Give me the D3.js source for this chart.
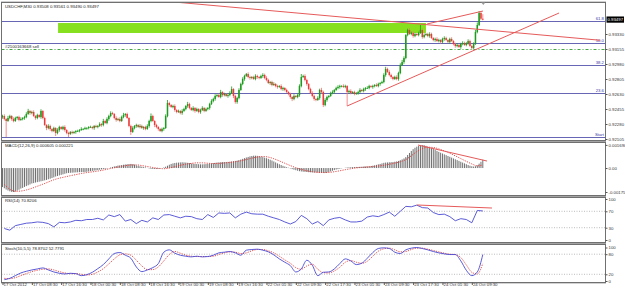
<!DOCTYPE html>
<html><head><meta charset="utf-8">
<script src="https://cdn.jsdelivr.net/npm/d3@7"></script>
<style>
body{margin:0;background:#fff}
svg{display:block}
text{font-family:"Liberation Sans",Arial,sans-serif;font-size:4.3px;fill:#222}
</style>
</head><body>
<svg id="c" width="625" height="290"></svg>
<script>
// ---------------- DATA ----------------
const chartTitle = "USDCHF,M30  0.93508 0.93561 0.93490 0.93497";
const macdTitle = "MACD(12,26,9) 0.000605 0.000221";
const rsiTitle = "RSI(14) 70.8206";
const stochTitle = "Stoch(10,5,5) 78.8702 52.7791";
const timeLabels = ["17 Oct 2012","17 Oct 08:30","17 Oct 16:30","18 Oct 00:30","18 Oct 08:30","18 Oct 16:30","19 Oct 00:30","19 Oct 08:30","19 Oct 16:30","22 Oct 01:30","22 Oct 09:30","22 Oct 17:30","23 Oct 01:30","23 Oct 09:30","23 Oct 17:30","24 Oct 01:30","24 Oct 09:30"];
const timeLabelBars = [0,16,32,48,64,80,96,112,128,144,160,176,192,208,224,240,256];
const priceTicks = [0.93330,0.93155,0.92980,0.92805,0.92630,0.92455,0.92280,0.92105];
const lastPrice = 0.93497;
const macdTicks = [0.00169,0,-0.00175];
const macdTickLabels = ["0.001690","0.00","-0.00175"];
const rsiTicks = [100,70,30,0];
const stochTicks = [100,80,20,0];

// candles: price x 1e5 (open of each bar = previous close)
const firstOpen = 92362;
const closePts = [
92373,92338,92315,92350,92373,92338,92315,92350,92362,92327,92338,92350,92362,92397,92432,92408,
92420,92373,92350,92385,92362,92432,92350,92268,92233,92257,92222,92198,92233,92175,92210,92245,
92222,92245,92210,92175,92163,92187,92175,92187,92198,92198,92210,92222,92222,92233,92233,92245,
92245,92233,92257,92245,92257,92280,92268,92315,92292,92338,92373,92408,92397,92350,92327,92338,
92315,92362,92385,92397,92350,92257,92187,92233,92257,92268,92245,92257,92233,92245,92222,92257,
92315,92373,92315,92268,92245,92222,92198,92222,92233,92373,92525,92502,92478,92490,92443,92420,
92432,92408,92432,92455,92490,92513,92467,92443,92467,92432,92455,92420,92443,92467,92432,92455,
92467,92513,92548,92572,92607,92618,92595,92653,92618,92630,92607,92618,92642,92688,92607,92537,
92583,92677,92747,92805,92840,92863,92828,92817,92828,92805,92840,92828,92817,92840,92852,92817,
92793,92758,92770,92735,92747,92723,92712,92723,92688,92700,92677,92653,92630,92595,92572,92607,
92595,92618,92723,92828,92840,92793,92747,92688,92642,92607,92572,92560,92583,92677,92653,92502,
92560,92595,92607,92642,92653,92677,92700,92712,92723,92723,92712,92723,92653,92665,92642,92653,
92630,92642,92653,92677,92665,92688,92700,92700,92723,92712,92723,92735,92723,92747,92758,92770,
92852,92922,92887,92852,92828,92805,92828,92805,92875,92968,93003,93050,93318,93377,93330,93342,
93307,93330,93318,93342,93377,93295,93318,93330,93307,93330,93283,93260,93272,93248,93260,93237,
93272,93283,93260,93237,93272,93248,93213,93190,93202,93178,93213,93225,93202,93225,93248,93190,
93167,93213,93353,93435,93575,93508,93497];
const upWickPts = [
15,20,10,25,15,10,20,15,10,15,20,10,15,20,25,10,
15,20,10,15,10,20,10,15,10,20,15,10,15,10,20,15,
10,15,20,10,15,10,15,10,10,15,10,20,10,15,10,10,
15,10,10,15,10,20,10,25,15,20,15,20,15,10,20,15,
20,15,25,10,15,10,15,20,10,15,10,20,15,10,15,20,
15,30,15,10,15,10,10,15,10,20,35,15,10,15,20,10,
15,10,20,15,10,25,15,10,20,10,15,10,15,20,10,15,
10,15,20,15,20,10,15,25,10,15,10,15,20,30,10,15,
15,20,15,20,15,12,20,15,10,15,20,15,10,15,20,15,
20,15,10,15,20,10,15,10,20,15,10,15,10,15,10,20,
10,15,20,35,15,20,15,10,15,20,15,10,20,15,25,15,
20,15,10,15,20,10,15,20,15,10,20,15,10,15,20,10,
15,10,15,20,10,15,10,20,15,10,15,10,20,15,10,15,
20,25,15,20,15,10,15,20,15,20,25,20,10,15,20,15,
20,15,10,15,58,15,20,10,15,20,15,10,15,20,15,10,
15,20,15,10,15,20,10,15,20,10,15,20,15,10,20,15,
15,20,25,30,23,20,53];
const dnWickPts = [
20,15,187,10,15,20,15,10,20,15,10,15,20,15,10,20,
15,10,20,15,10,20,15,10,25,15,20,15,10,35,15,20,
10,15,20,15,35,10,15,10,20,10,15,10,15,10,20,15,
10,15,20,10,15,10,20,15,10,15,20,15,10,15,20,10,
15,10,15,20,10,15,35,10,15,20,10,15,10,20,15,10,
20,15,10,25,15,20,10,15,20,10,15,20,10,15,20,15,
10,15,20,10,15,20,15,10,15,20,10,15,20,10,15,10,
15,20,10,15,20,15,10,15,20,15,10,20,15,10,25,20,
20,15,10,15,20,10,15,20,15,10,15,20,15,10,20,15,
15,10,20,15,10,15,20,10,15,20,15,10,15,20,25,15,
10,15,20,15,10,15,20,15,10,15,20,15,10,20,15,24,
15,20,15,10,15,20,10,15,20,15,10,15,163,20,15,10,
15,10,20,15,10,15,20,10,15,10,20,15,10,15,20,10,
15,20,10,15,20,15,10,15,20,15,10,20,15,15,10,15,
20,15,10,15,10,20,15,10,15,20,10,15,20,10,15,20,
15,20,10,15,20,10,15,20,15,10,20,15,10,15,20,10,
20,15,10,15,12,15,7];

// MACD main (histogram), one value per bar, x 1e-6
const macdHist = [
-1390,-1480,-1570,-1640,-1700,-1740,-1750,-1720,-1650,-1580,-1500,-1450,-1380,-1320,-1260,-1200,
-1130,-1100,-1060,-1030,-1000,-970,-940,-900,-870,-820,-780,-730,-680,-620,-580,-540,
-500,-460,-420,-380,-360,-350,-340,-330,-320,-310,-300,-300,-290,-290,-270,-250,
-230,-210,-190,-170,-150,-120,-100,-80,-60,-30,0,40,80,120,150,180,
200,220,240,260,280,290,300,280,250,200,160,130,100,70,40,10,
-30,-60,-70,-70,-60,-50,-30,0,40,100,170,240,300,340,370,390,
400,410,420,410,400,380,360,340,320,300,290,280,270,270,280,290,
300,320,340,360,380,400,410,420,430,440,440,450,460,480,500,520,
540,580,620,670,720,770,810,850,880,900,900,890,870,840,800,760,
720,670,610,550,480,410,340,280,220,160,110,60,20,-30,-80,-120,
-160,-200,-230,-250,-270,-280,-290,-300,-310,-320,-330,-330,-340,-350,-350,-360,
-360,-340,-300,-250,-200,-150,-110,-80,-50,-20,0,20,40,50,60,70,
70,80,80,90,90,100,110,120,130,150,170,200,230,270,300,340,
380,400,410,420,430,440,460,480,520,570,630,700,800,950,1100,1250,
1380,1480,1560,1620,1660,1680,1670,1620,1560,1500,1450,1390,1330,1250,1180,1120,
1060,1000,940,880,820,760,700,640,580,520,460,400,340,280,220,170,
130,110,130,200,320,460,605];

// oscillator lines read every third bar (bars 1,4,7,...,262)
const macdSignal = [
-1200,-1550,-1700,-1680,-1600,-1480,-1330,-1180,-1020,-860,
-740,-650,-560,-480,-400,-330,-280,-220,-150,-60,
20,100,170,220,230,180,110,40,-20,-50,
0,100,200,280,340,380,380,350,330,340,
370,410,460,530,620,720,800,840,800,680,
520,350,180,30,-100,-200,-270,-310,-330,-320,
-270,-200,-120,-50,10,50,80,110,150,200,
280,360,460,620,900,1200,1420,1520,1500,1400,
1250,1080,890,690,490,300,160,221];
const rsi = [
28,24,35,38,41,42,44,43,40,32,
43,42,44,48,47,50,50,53,49,61,
57,62,46,50,40,48,44,54,50,61,
62,58,54,58,57,52,50,62,55,66,
65,66,54,63,68,64,63,63,58,54,
50,44,39,45,60,52,39,45,35,49,
53,55,49,44,44,46,56,59,57,62,
68,58,70,82,81,85,79,78,67,62,
63,57,47,52,50,42,72,70.82];
const stochMain = [
4,8,16,24,29,33,36,39,33,27,
23,21,23,22,16,19,26,37,49,66,
82,85,77,68,42,28,33,40,52,86,
93,83,77,74,72,74,72,73,77,84,
86,88,84,77,92,94,95,92,87,78,
66,56,46,27,36,62,47,16,26,27,
36,52,66,60,49,53,68,85,97,99,
97,86,82,93,98,100,97,93,88,84,
81,79,79,60,32,16,27,78.87];
const stochSignal = [
8,7,10,16,22,28,32,35,36,33,
28,24,22,22,20,18,20,27,37,51,
66,78,81,77,62,45,34,34,42,60,
79,88,83,77,74,73,73,73,74,79,
84,87,86,82,84,90,94,94,90,84,
74,63,53,40,35,45,50,35,25,24,
30,41,56,61,56,53,59,74,89,96,
98,93,87,88,94,98,98,95,91,87,
83,80,79,70,48,26,21,52.78];

// drawn objects
const fibLevels = [["61.8",0.93482],["50.0",0.93224],["38.2",0.92965],["23.6",0.92645],["Start",0.92128]];
const supplyZone = {b1:30.3, b2:231, top:0.93458, bottom:0.93342};
const orderLine = {label:"#2100163668 sell", price:0.93150};
const priceTrendLines = [
  {b1:87.6, p1:0.93715, b2:326, p2:0.93257},
  {b1:188, p1:0.92490, b2:303.6, p2:0.93575},
  {b1:231.6, p1:0.93447, b2:262.1, p2:0.93598}
];
const macdTrendLine = {b1:226.7, v1:0.001679, b2:264.3, v2:0.000511};
const rsiTrendLine = {b1:226.1, v1:85.4, b2:267, v2:78};

// ---------------- DRAW ----------------
const svg = d3.select("#c");
const L = 1.5, R = 605.5;
const panels = {
  main:{top:2.5,bottom:140.5},
  macd:{top:142.5,bottom:195.5},
  rsi:{top:197.5,bottom:242.5},
  stoch:{top:244.5,bottom:282.5}
};
const x = d3.scaleLinear().domain([0, 262]).range([2.5, 482.8]);
const yP = d3.scaleLinear().domain([0.92105, 0.93680]).range([139, 4]);
const yM = d3.scaleLinear().domain([-0.00175, 0.00169]).range([192, 144.9]);
const yR = d3.scaleLinear().domain([0,100]).range([240, 199]);
const yS = d3.scaleLinear().domain([0,100]).range([281, 247.5]);
const oscBars = d3.range(1, 263, 3);

// frame / separators
svg.append("rect").attr("x",0).attr("y",0).attr("width",625).attr("height",290).attr("fill","#fff");
svg.append("rect").attr("x",L-0.5).attr("y",1.5).attr("width",R-L+1).attr("height",282).attr("fill","#a4a4a4");
const defs = svg.append("defs");
Object.entries(panels).forEach(([k,p])=>{
  svg.append("rect").attr("x",L).attr("y",p.top).attr("width",R-L).attr("height",p.bottom-p.top)
    .attr("fill","#fff").attr("stroke","#707070").attr("stroke-width",1);
  defs.append("clipPath").attr("id","clip-"+k).append("rect")
    .attr("x",L+0.5).attr("y",p.top+0.5).attr("width",R-L-1).attr("height",p.bottom-p.top-1);
});

// ---- main panel
const gM = svg.append("g").attr("clip-path","url(#clip-main)");
gM.append("rect")
  .attr("x",x(supplyZone.b1)).attr("width",x(supplyZone.b2)-x(supplyZone.b1))
  .attr("y",yP(supplyZone.top)).attr("height",yP(supplyZone.bottom)-yP(supplyZone.top))
  .attr("fill","#86e01e");
gM.selectAll("line.fib").data(fibLevels).join("line").attr("class","fib")
  .attr("x1",L).attr("x2",R).attr("y1",d=>Math.round(yP(d[1]))+0.5).attr("y2",d=>Math.round(yP(d[1]))+0.5)
  .attr("stroke","#6666b4").attr("stroke-width",1);
gM.selectAll("text.fib").data(fibLevels).join("text").attr("class","fib")
  .attr("x",604).attr("y",d=>yP(d[1])-1.2).attr("text-anchor","end").style("fill","#3a3aa6")
  .text(d=>d[0]);
gM.append("line").attr("x1",L).attr("x2",R)
  .attr("y1",Math.round(yP(orderLine.price))+0.5).attr("y2",Math.round(yP(orderLine.price))+0.5)
  .attr("stroke","#45a845").attr("stroke-width",1).attr("stroke-dasharray","3,2,1,2");
gM.append("text").attr("x",5).attr("y",yP(orderLine.price)-1.6).text(orderLine.label);

// candles
const candles = closePts.map((c,i)=>{
  const o = i===0 ? firstOpen : closePts[i-1];
  return {i, o:o/1e5, c:c/1e5, h:(Math.max(o,c)+upWickPts[i])/1e5, l:(Math.min(o,c)-dnWickPts[i])/1e5};
});
const colUp = "#1c9c1c", colDn = "#ec3a3a";
gM.selectAll("line.wick").data(candles).join("line").attr("class","wick")
  .attr("x1",d=>x(d.i)).attr("x2",d=>x(d.i)).attr("y1",d=>yP(d.h)).attr("y2",d=>yP(d.l))
  .attr("stroke",d=>d.c>=d.o?colUp:"#f07070").attr("stroke-width",0.8);
gM.selectAll("rect.body").data(candles).join("rect").attr("class","body")
  .attr("x",d=>x(d.i)-0.75).attr("width",1.5)
  .attr("y",d=>yP(Math.max(d.o,d.c)))
  .attr("height",d=>Math.max(0.7,Math.abs(yP(d.o)-yP(d.c))))
  .attr("fill",d=>d.c>=d.o?colUp:colDn);

// trend lines
gM.selectAll("line.tl").data(priceTrendLines).join("line").attr("class","tl")
  .attr("x1",d=>x(d.b1)).attr("y1",d=>yP(d.p1)).attr("x2",d=>x(d.b2)).attr("y2",d=>yP(d.p2))
  .attr("stroke","#e65a5a").attr("stroke-width",1);
gM.append("text").attr("x",5).attr("y",8.2).text(chartTitle);
// chart shift marker
svg.append("path").attr("d",`M${x(262)-1.5},2.5 L${x(262)+2.5},2.5 L${x(262)+0.5},5 Z`).attr("fill","#9a9a9a");

// price axis
const axP = d3.axisRight(yP).tickValues(priceTicks).tickSize(2).tickPadding(1).tickFormat(d3.format(".5f"));
const gAP = svg.append("g").attr("transform",`translate(${R},0)`).call(axP);
gAP.select(".domain").remove();
gAP.selectAll("text").style("font-size","4.3px").style("fill","#333");
gAP.selectAll("line").attr("stroke","#555");
svg.append("rect").attr("x",R+1).attr("y",yP(lastPrice)-3.2).attr("width",17.5).attr("height",6.2).attr("fill","#000");
svg.append("text").attr("x",R+2).attr("y",yP(lastPrice)+1.6).style("fill","#fff").text(d3.format(".5f")(lastPrice));

// ---- MACD panel
const gMa = svg.append("g").attr("clip-path","url(#clip-macd)");
gMa.selectAll("line.h").data(macdHist).join("line").attr("class","h")
  .attr("x1",(d,i)=>x(i)).attr("x2",(d,i)=>x(i)).attr("y1",yM(0)).attr("y2",d=>yM(d/1e6))
  .attr("stroke","#606060").attr("stroke-width",0.9);
gMa.append("path").datum(macdSignal)
  .attr("d",d3.line().x((d,i)=>x(oscBars[i])).y(d=>yM(d/1e6)).curve(d3.curveMonotoneX))
  .attr("fill","none").attr("stroke","#e03a3a").attr("stroke-width",0.9).attr("stroke-dasharray","1.2,1.2");
gMa.append("line").attr("x1",x(macdTrendLine.b1)).attr("y1",yM(macdTrendLine.v1))
  .attr("x2",x(macdTrendLine.b2)).attr("y2",yM(macdTrendLine.v2)).attr("stroke","#e65a5a").attr("stroke-width",1);
svg.append("text").attr("x",5).attr("y",147.2).text(macdTitle);
const axM = d3.axisRight(yM).tickValues(macdTicks).tickSize(2).tickPadding(1).tickFormat((d,i)=>macdTickLabels[i]);
const gAM = svg.append("g").attr("transform",`translate(${R},0)`).call(axM);
gAM.select(".domain").remove();
gAM.selectAll("text").style("font-size","4.3px").style("fill","#333");
gAM.selectAll("line").attr("stroke","#555");

// ---- RSI panel
const gR = svg.append("g").attr("clip-path","url(#clip-rsi)");
gR.selectAll("line.lv").data([70,30]).join("line").attr("class","lv")
  .attr("x1",L).attr("x2",R).attr("y1",d=>yR(d)).attr("y2",d=>yR(d))
  .attr("stroke","#a0a0a0").attr("stroke-width",0.7).attr("stroke-dasharray","1,1.5");
gR.append("path").datum(rsi)
  .attr("d",d3.line().x((d,i)=>x(oscBars[i])).y(d=>yR(d)))
  .attr("fill","none").attr("stroke","#4848d2").attr("stroke-width",0.9);
gR.append("line").attr("x1",x(rsiTrendLine.b1)).attr("y1",yR(rsiTrendLine.v1))
  .attr("x2",x(rsiTrendLine.b2)).attr("y2",yR(rsiTrendLine.v2)).attr("stroke","#e65a5a").attr("stroke-width",1);
svg.append("text").attr("x",5).attr("y",202.3).text(rsiTitle);
const axR = d3.axisRight(yR).tickValues(rsiTicks).tickSize(2).tickPadding(1);
const gAR = svg.append("g").attr("transform",`translate(${R},0)`).call(axR);
gAR.select(".domain").remove();
gAR.selectAll("text").style("font-size","4.3px").style("fill","#333");
gAR.selectAll("line").attr("stroke","#555");

// ---- Stochastic panel
const gS = svg.append("g").attr("clip-path","url(#clip-stoch)");
gS.selectAll("line.lv").data([80,20]).join("line").attr("class","lv")
  .attr("x1",L).attr("x2",R).attr("y1",d=>yS(d)).attr("y2",d=>yS(d))
  .attr("stroke","#a0a0a0").attr("stroke-width",0.7).attr("stroke-dasharray","1,1.5");
gS.append("path").datum(stochSignal)
  .attr("d",d3.line().x((d,i)=>x(oscBars[i])).y(d=>yS(d)).curve(d3.curveMonotoneX))
  .attr("fill","none").attr("stroke","#e03a3a").attr("stroke-width",0.9).attr("stroke-dasharray","1.2,1.2");
gS.append("path").datum(stochMain)
  .attr("d",d3.line().x((d,i)=>x(oscBars[i])).y(d=>yS(d)).curve(d3.curveMonotoneX))
  .attr("fill","none").attr("stroke","#4848d2").attr("stroke-width",0.9);
svg.append("text").attr("x",5).attr("y",249.6).text(stochTitle);
const axS = d3.axisRight(yS).tickValues(stochTicks).tickSize(2).tickPadding(1);
const gAS = svg.append("g").attr("transform",`translate(${R},0)`).call(axS);
gAS.select(".domain").remove();
gAS.selectAll("text").style("font-size","4.3px").style("fill","#333");
gAS.selectAll("line").attr("stroke","#555");

// ---- time axis
const axT = d3.axisBottom(x).tickValues(timeLabelBars).tickSize(2.5).tickPadding(0.5)
  .tickFormat((d,i)=>timeLabels[i]);
const gAT = svg.append("g").attr("transform",`translate(0,${panels.stoch.bottom})`).call(axT);
gAT.select(".domain").remove();
gAT.selectAll("line").attr("stroke","#555");
gAT.selectAll("text").attr("text-anchor","start").attr("dx","0.6").attr("dy","0.2em")
  .style("font-size","4.3px").style("fill","#333");
</script>
</body></html>
